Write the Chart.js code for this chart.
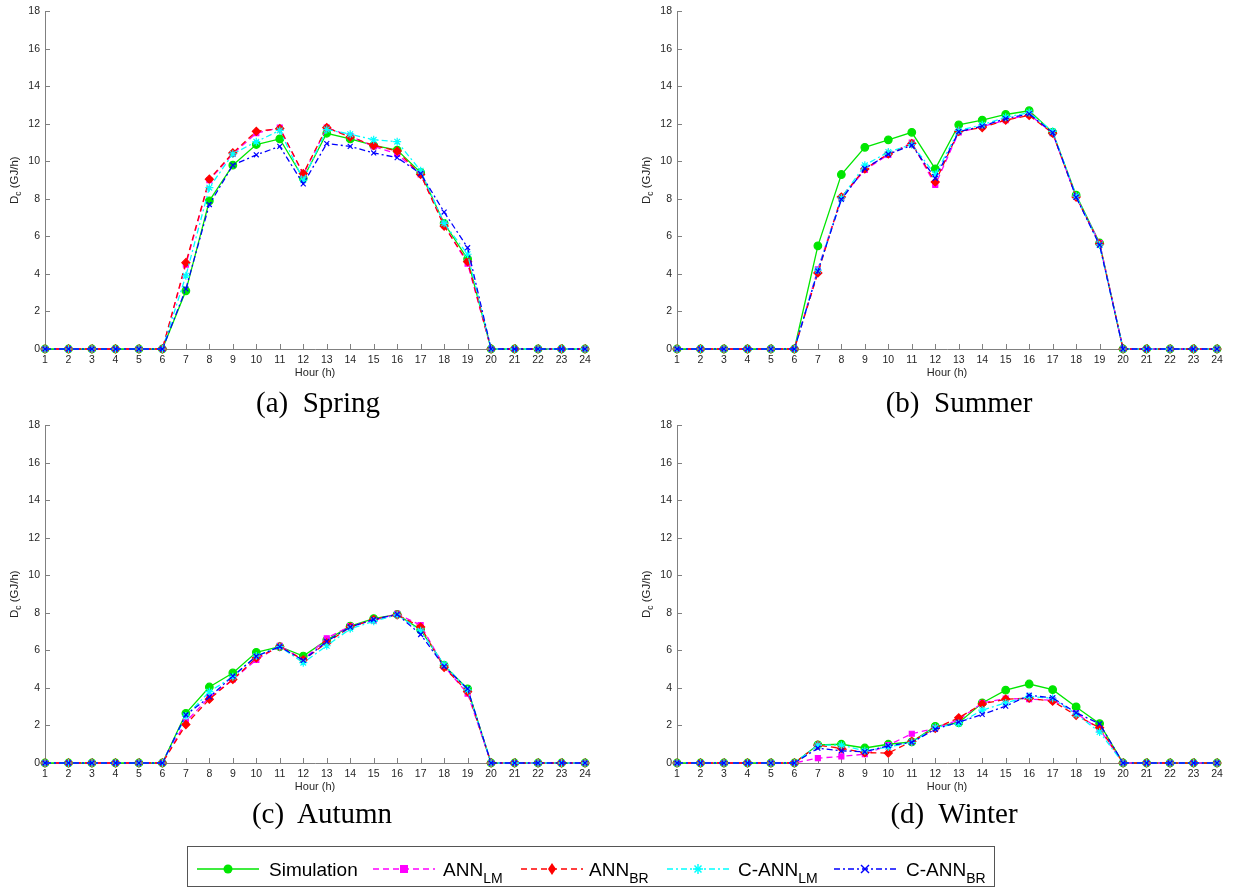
<!DOCTYPE html>
<html>
<head>
<meta charset="utf-8">
<script src="https://cdn.jsdelivr.net/npm/chart.js@4.4.0/dist/chart.umd.min.js"></script>
<style>
body{margin:0;background:#fff;width:1234px;height:890px;position:relative;overflow:hidden;font-family:"Liberation Sans",Arial,sans-serif;}
.panel{position:absolute;width:600px;height:385px;}
.cap{position:absolute;font-family:"Liberation Serif","Times New Roman",serif;font-size:29px;white-space:pre;transform:translate(-50%,-50%);color:#000;}
#legend{position:absolute;left:187px;top:846px;width:806px;height:39px;border:1px solid #555;background:#fff;}
#legend svg{position:absolute;top:12px;}
#legend .txt{position:absolute;top:12px;font-size:19px;color:#000;white-space:nowrap;}
#legend .txt sub{font-size:14px;vertical-align:-7px;}
</style>
</head>
<body>
<div class="panel" style="left:0;top:0"><canvas id="spring" width="600" height="385"></canvas></div>
<div class="panel" style="left:632px;top:0"><canvas id="summer" width="600" height="385"></canvas></div>
<div class="panel" style="left:0;top:414px"><canvas id="autumn" width="600" height="385"></canvas></div>
<div class="panel" style="left:632px;top:414px"><canvas id="winter" width="600" height="385"></canvas></div>
<div class="cap" style="left:318px;top:402px">(a)  Spring</div>
<div class="cap" style="left:959px;top:402px">(b)  Summer</div>
<div class="cap" style="left:322px;top:813px">(c)  Autumn</div>
<div class="cap" style="left:954px;top:813px">(d)  Winter</div>
<div id="legend"></div>
<script>
// hours on the x axis
const hours = [1,2,3,4,5,6,7,8,9,10,11,12,13,14,15,16,17,18,19,20,21,22,23,24];
const yTicks = [0,2,4,6,8,10,12,14,16,18];

// Spring
const simSpring  = [0,0,0,0,0,0,3.1,7.9,9.8,10.9,11.2,9.1,11.5,11.2,10.85,10.6,9.4,6.7,4.8,0,0,0,0,0];
const lmSpring   = [0,0,0,0,0,0,4.5,9.0,10.4,11.5,11.8,9.3,11.8,11.35,10.8,10.4,9.3,6.6,4.55,0,0,0,0,0];
const brSpring   = [0,0,0,0,0,0,4.6,9.05,10.45,11.6,11.75,9.35,11.8,11.3,10.85,10.55,9.3,6.55,4.65,0,0,0,0,0];
const clmSpring  = [0,0,0,0,0,0,3.9,8.6,10.4,11.05,11.65,9.0,11.7,11.45,11.15,11.05,9.5,6.7,5.05,0,0,0,0,0];
const cbrSpring  = [0,0,0,0,0,0,3.2,7.7,9.8,10.35,10.8,8.8,10.95,10.8,10.45,10.2,9.35,7.3,5.4,0,0,0,0,0];

// Summer
const simSummer  = [0,0,0,0,0,0,5.5,9.3,10.75,11.15,11.55,9.6,11.95,12.2,12.5,12.7,11.55,8.2,5.65,0,0,0,0,0];
const lmSummer   = [0,0,0,0,0,0,4.25,8.05,9.55,10.35,11.0,8.75,11.55,11.85,12.2,12.5,11.5,8.1,5.65,0,0,0,0,0];
const brSummer   = [0,0,0,0,0,0,4.05,8.1,9.6,10.4,10.95,8.9,11.6,11.8,12.2,12.45,11.5,8.1,5.6,0,0,0,0,0];
const clmSummer  = [0,0,0,0,0,0,4.2,8.05,9.8,10.5,10.9,9.3,11.65,11.95,12.35,12.6,11.6,8.15,5.55,0,0,0,0,0];
const cbrSummer  = [0,0,0,0,0,0,4.15,7.97,9.62,10.38,10.86,9.1,11.58,11.88,12.28,12.53,11.53,8.09,5.54,0,0,0,0,0];

// Autumn
const simAutumn  = [0,0,0,0,0,0,2.65,4.05,4.8,5.9,6.2,5.7,6.55,7.3,7.7,7.92,7.1,5.2,3.95,0,0,0,0,0];
const lmAutumn   = [0,0,0,0,0,0,2.2,3.5,4.45,5.5,6.25,5.5,6.65,7.3,7.6,7.95,7.35,5.15,3.7,0,0,0,0,0];
const brAutumn   = [0,0,0,0,0,0,2.05,3.4,4.45,5.6,6.2,5.5,6.4,7.25,7.65,7.9,7.25,5.1,3.8,0,0,0,0,0];
const clmAutumn  = [0,0,0,0,0,0,2.5,3.8,4.6,5.7,6.2,5.35,6.25,7.15,7.55,7.9,7.05,5.25,3.9,0,0,0,0,0];
const cbrAutumn  = [0,0,0,0,0,0,2.57,3.52,4.63,5.69,6.2,5.47,6.48,7.25,7.65,7.92,6.85,5.15,3.95,0,0,0,0,0];

// Winter
const simWinter  = [0,0,0,0,0,0,0.97,1.0,0.8,1.0,1.13,1.95,2.15,3.2,3.88,4.21,3.91,2.99,2.1,0,0,0,0,0];
const lmWinter   = [0,0,0,0,0,0,0.26,0.35,0.47,0.95,1.56,1.85,2.3,3.2,3.44,3.4,3.35,2.65,1.8,0,0,0,0,0];
const brWinter   = [0,0,0,0,0,0,0.95,0.78,0.55,0.53,1.15,1.85,2.41,3.15,3.4,3.45,3.29,2.54,1.88,0,0,0,0,0];
const clmWinter  = [0,0,0,0,0,0,0.95,0.95,0.65,0.85,1.1,1.9,2.1,2.82,3.2,3.55,3.45,2.6,1.65,0,0,0,0,0];
const cbrWinter  = [0,0,0,0,0,0,0.79,0.65,0.6,0.92,1.1,1.8,2.18,2.59,3.03,3.61,3.47,2.68,2.09,0,0,0,0,0];

const names = ['Simulation','ANN_LM','ANN_BR','C-ANN_LM','C-ANN_BR'];
const colors = ['#00e600','#ff00ff','#ff0000','#00ffff','#0000ff'];
const dashes = [[],[6,4],[6,4],[6,3,2,3],[6,3,2,3]];
const markers = ['circle','rect','rectRot','star','crossRot'];
const radii = [3.8,3.5,4,4,3.5];

const axesPlugin = {
	id: 'axesPlugin',
	beforeDatasetsDraw(chart){
		const {ctx, chartArea: a, scales: {x, y}} = chart;
		ctx.save();
		ctx.strokeStyle = '#808080';
		ctx.lineWidth = 1;
		ctx.beginPath();
		ctx.moveTo(a.left + 0.5, a.top);
		ctx.lineTo(a.left + 0.5, a.bottom + 0.5);
		ctx.lineTo(a.right, a.bottom + 0.5);
		yTicks.forEach(v => {
			const p = Math.round(y.getPixelForValue(v)) + 0.5;
			ctx.moveTo(a.left, p); ctx.lineTo(a.left + 5, p);
		});
		hours.forEach(h => {
			const p = Math.round(x.getPixelForValue(h)) + 0.5;
			ctx.moveTo(p, a.bottom); ctx.lineTo(p, a.bottom - 5);
		});
		ctx.stroke();

		ctx.fillStyle = '#262626';
		ctx.font = '11px "Liberation Sans", Arial';
		ctx.textAlign = 'center';
		ctx.textBaseline = 'middle';
		ctx.fillText('Hour (h)', (a.left + a.right) / 2, a.bottom + 24);

		// y title with subscript
		ctx.translate(15, (a.top + a.bottom) / 2);
		ctx.rotate(-Math.PI / 2);
		ctx.textAlign = 'left';
		const big = '11.5px "Liberation Sans", Arial', small = '8.5px "Liberation Sans", Arial';
		ctx.font = big; const w1 = ctx.measureText('D').width, w3 = ctx.measureText(' (GJ/h)').width;
		ctx.font = small; const w2 = ctx.measureText('c').width;
		let sx = -(w1 + w2 + w3) / 2;
		ctx.font = big; ctx.fillText('D', sx, 0);
		ctx.font = small; ctx.fillText('c', sx + w1, 4);
		ctx.font = big; ctx.fillText(' (GJ/h)', sx + w1 + w2, 0);
		ctx.restore();
	}
};

function makeChart(id, seriesList){
	const datasets = seriesList.map((vals, i) => ({
		label: names[i],
		data: hours.map((h, k) => ({x: h, y: vals[k]})),
		borderColor: colors[i],
		backgroundColor: colors[i],
		borderWidth: 1.3,
		borderDash: dashes[i],
		pointStyle: markers[i],
		pointRadius: radii[i],
		pointBackgroundColor: colors[i],
		pointBorderColor: colors[i],
		pointBorderWidth: 1.2,
		tension: 0,
		clip: false,
		order: 5 - i
	}));
	return new Chart(document.getElementById(id), {
		type: 'line',
		data: {datasets: datasets},
		plugins: [axesPlugin],
		options: {
			responsive: false,
			animation: false,
			devicePixelRatio: 1,
			layout: {padding: {top: 8, right: 15, left: 0, bottom: 0}},
			plugins: {legend: {display: false}, tooltip: {enabled: false}},
			scales: {
				x: {
					type: 'linear', min: 1, max: 24,
					grid: {display: false, drawTicks: false}, border: {display: false},
					ticks: {stepSize: 1, autoSkip: false, maxRotation: 0, padding: 5, color: '#262626',
						font: {family: '"Liberation Sans", Arial', size: 10.5}},
					afterFit(s){ s.height = 36; }
				},
				y: {
					min: 0, max: 18,
					grid: {display: false, drawTicks: false}, border: {display: false},
					ticks: {stepSize: 2, padding: 5, color: '#262626',
						font: {family: '"Liberation Sans", Arial', size: 10.5}},
					afterFit(s){ s.width = 45; }
				}
			}
		}
	});
}

makeChart('spring', [simSpring, lmSpring, brSpring, clmSpring, cbrSpring]);
makeChart('summer', [simSummer, lmSummer, brSummer, clmSummer, cbrSummer]);
makeChart('autumn', [simAutumn, lmAutumn, brAutumn, clmAutumn, cbrAutumn]);
makeChart('winter', [simWinter, lmWinter, brWinter, clmWinter, cbrWinter]);

// legend with subscripts
const legendItems = [
	{line: 9, text: 81, html: 'Simulation'},
	{line: 185, text: 255, html: 'ANN<sub>LM</sub>'},
	{line: 333, text: 401, html: 'ANN<sub>BR</sub>'},
	{line: 479, text: 550, html: 'C-ANN<sub>LM</sub>'},
	{line: 646, text: 718, html: 'C-ANN<sub>BR</sub>'}
];
function markerSvg(i, cx, cy){
	const c = colors[i];
	if (i === 0) return `<circle cx="${cx}" cy="${cy}" r="4.5" fill="${c}"/>`;
	if (i === 1) return `<rect x="${cx-4}" y="${cy-4}" width="8" height="8" fill="${c}"/>`;
	if (i === 2) return `<polygon points="${cx},${cy-6} ${cx+4},${cy} ${cx},${cy+6} ${cx-4},${cy}" fill="${c}"/>`;
	if (i === 3) return `<g stroke="${c}" stroke-width="1.5"><line x1="${cx-5}" y1="${cy}" x2="${cx+5}" y2="${cy}"/><line x1="${cx}" y1="${cy-5}" x2="${cx}" y2="${cy+5}"/><line x1="${cx-3.5}" y1="${cy-3.5}" x2="${cx+3.5}" y2="${cy+3.5}"/><line x1="${cx-3.5}" y1="${cy+3.5}" x2="${cx+3.5}" y2="${cy-3.5}"/></g>`;
	return `<g stroke="${c}" stroke-width="1.5"><line x1="${cx-4}" y1="${cy-4}" x2="${cx+4}" y2="${cy+4}"/><line x1="${cx-4}" y1="${cy+4}" x2="${cx+4}" y2="${cy-4}"/></g>`;
}
const legend = document.getElementById('legend');
legendItems.forEach((it, i) => {
	const w = 62;
	const dash = dashes[i].length ? `stroke-dasharray="${dashes[i].join(' ')}"` : '';
	legend.insertAdjacentHTML('beforeend',
		`<svg style="left:${it.line}px" width="${w}" height="20"><line x1="0" y1="10" x2="${w}" y2="10" stroke="${colors[i]}" stroke-width="1.6" ${dash}/>${markerSvg(i, w/2, 10)}</svg>` +
		`<div class="txt" style="left:${it.text}px">${it.html}</div>`);
});
</script>
</body>
</html>
